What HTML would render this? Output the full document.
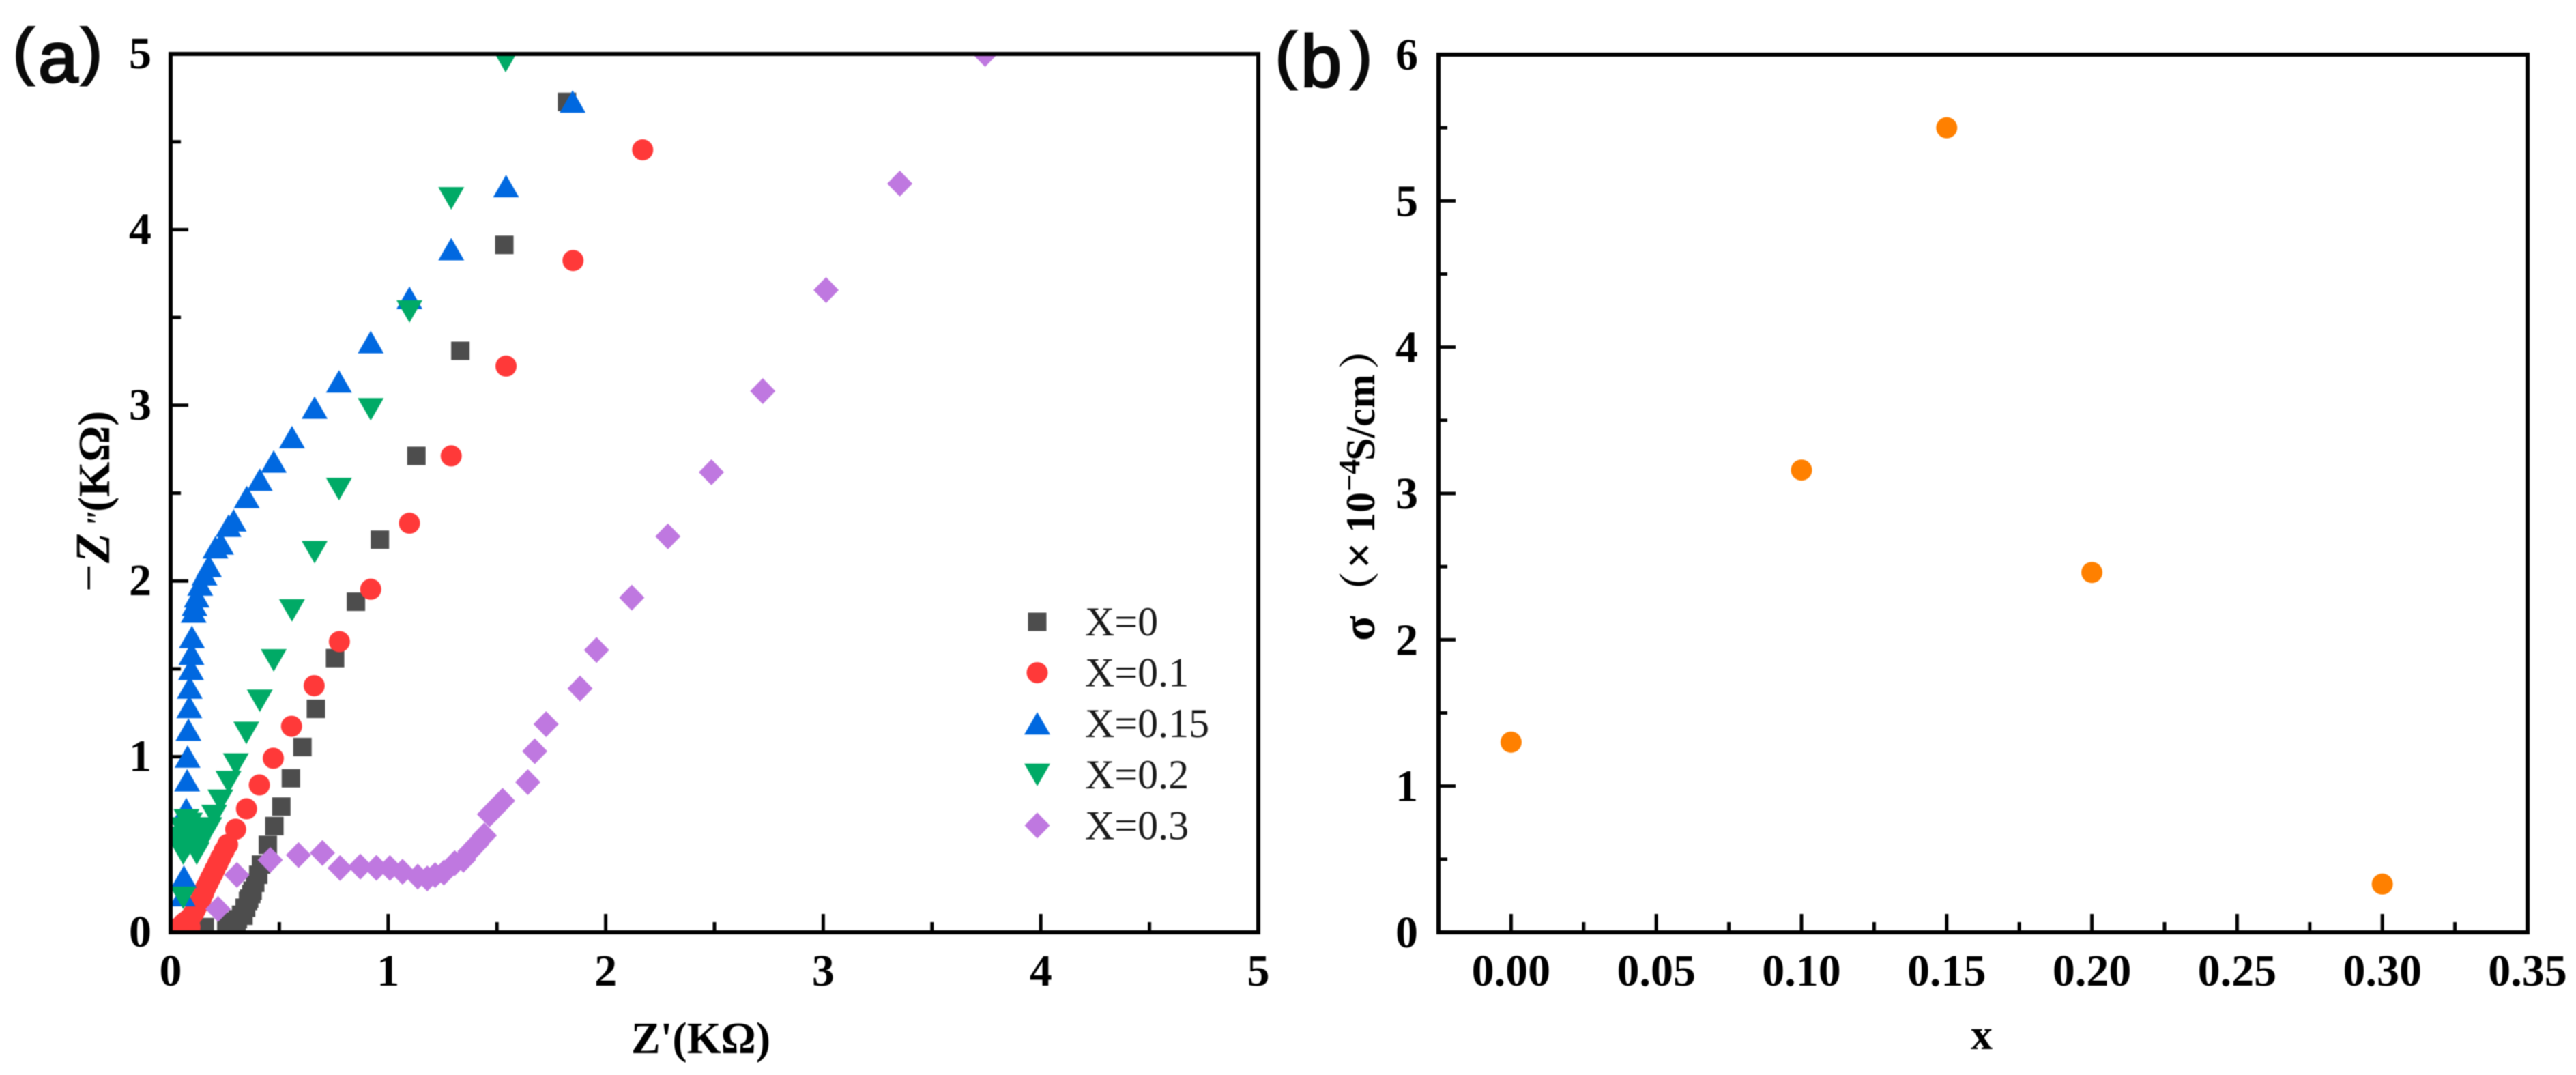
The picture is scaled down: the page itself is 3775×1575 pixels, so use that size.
<!DOCTYPE html>
<html lang="en">
<head>
<meta charset="utf-8">
<title>Impedance and conductivity charts</title>
<style>
html,body{margin:0;padding:0;background:#fff;width:3775px;height:1575px;overflow:hidden}
svg{display:block;filter:blur(0.8px)}
text{font-family:"Liberation Serif","Noto Serif CJK SC",serif;fill:#000}
.tick{font-size:66px;font-weight:bold}
.title{font-size:66px;font-weight:bold}
.legend{font-size:60px;fill:#1a1a1a}
.panel{font-family:"Liberation Sans","Noto Sans CJK SC",sans-serif;fill:#0a0a0a;stroke:#0a0a0a;stroke-width:3px}
</style>
</head>
<body>
<svg id="figure" xmlns="http://www.w3.org/2000/svg" width="3775" height="1575" viewBox="0 0 3775 1575">
  <rect x="0" y="0" width="3775" height="1575" fill="#ffffff"/>
  <defs>
    <clipPath id="clip-a"><rect x="250" y="79" width="1594" height="1287"/></clipPath>
    <clipPath id="clip-b"><rect x="2108" y="80" width="1596" height="1286"/></clipPath>
  </defs>

  <g id="panel-a"></g>
  <g id="panel-b"></g>

  <text class="panel"><tspan x="19" y="106" font-size="92">(</tspan><tspan x="56" y="120" font-size="105">a</tspan><tspan x="119" y="106" font-size="92">)</tspan></text>
  <text class="panel"><tspan x="1869" y="112" font-size="92">(</tspan><tspan x="1906" y="127" font-size="108">b</tspan><tspan x="1980" y="112" font-size="92">)</tspan></text>

  <text class="title" transform="translate(160 866) rotate(-90)"><tspan x="-1" y="-6" font-weight="normal" font-size="72">&#8722;</tspan><tspan x="41" y="0" font-style="italic" font-size="72">Z</tspan><tspan x="92" y="0" font-size="48" font-style="italic">"</tspan><tspan x="116" y="0">(K&#937;)</tspan></text>
  <text class="title" x="925" y="1543" textLength="204" lengthAdjust="spacingAndGlyphs">Z'(K&#937;)</text>

  <text class="title" transform="translate(2014 937) rotate(-90)" style="font-size:60px"><tspan x="-2" y="0" font-size="68">&#963;</tspan><tspan x="40" y="0" font-size="60">&#65288;</tspan><tspan x="104" y="0" font-size="68">&#215;</tspan><tspan x="156" y="0">10</tspan><tspan x="217" y="-22" font-size="44">&#8722;4</tspan><tspan x="262" y="0">S/cm</tspan><tspan x="396" y="0" font-size="60">&#65289;</tspan></text>
  <text class="title" x="2904" y="1537" text-anchor="middle" style="font-size:64px">x</text>
</svg>

<script>
// ---------- Panel (a) values: Nyquist data, kilo-ohm ----------
const seriesNames = ["X=0", "X=0.1", "X=0.15", "X=0.2", "X=0.3"];

const x0Re = [1.822,1.534,1.332,1.13,0.962,0.852,0.756,0.668,0.606,0.553,0.509,0.477,0.447,0.416,0.403,0.389,0.377,0.371,0.361,0.356,0.347,0.34,0.335,0.324,0.309,0.303,0.288,0.272,0.262,0.256,0.157];
const x0Im = [4.727,3.913,3.31,2.712,2.235,1.882,1.561,1.272,1.055,0.877,0.716,0.605,0.498,0.386,0.328,0.282,0.237,0.218,0.192,0.179,0.14,0.14,0.095,0.1,0.075,0.034,0.062,0.049,0.043,0.017,0.03];

const x01Re = [2.17,1.85,1.542,1.29,1.098,0.92,0.776,0.66,0.556,0.472,0.408,0.349,0.299,0.262,0.246,0.23,0.217,0.204,0.194,0.183,0.173,0.162,0.152,0.141,0.131,0.12,0.113,0.105,0.094,0.089,0.084,0.078,0.068,0.068,0.058,0.042,0.021];
const x01Im = [4.454,3.824,3.223,2.712,2.329,1.953,1.655,1.404,1.173,0.991,0.839,0.703,0.587,0.5,0.464,0.425,0.392,0.36,0.334,0.308,0.282,0.256,0.224,0.192,0.168,0.146,0.127,0.108,0.088,0.03,0.075,0.049,0.06,0.017,0.049,0.03,0.017];

const x015Re = [1.848,1.542,1.29,1.098,0.92,0.774,0.662,0.558,0.474,0.41,0.35,0.29,0.266,0.232,0.206,0.176,0.156,0.136,0.12,0.11,0.106,0.098,0.096,0.094,0.088,0.086,0.082,0.078,0.076,0.072,0.03,0.061,0.055];
const x015Im = [4.727,4.246,3.887,3.61,3.358,3.134,2.985,2.817,2.678,2.575,2.476,2.343,2.313,2.212,2.19,2.084,2.036,1.978,1.911,1.863,1.824,1.68,1.584,1.498,1.392,1.281,1.152,0.999,0.864,0.7,0.56,0.315,0.21];

const x02Re = [1.54,1.29,1.098,0.92,0.774,0.662,0.558,0.474,0.41,0.348,0.3,0.266,0.229,0.2,0.178,0.157,0.141,0.126,0.12,0.105,0.094,0.089,0.078,0.073,0.058,0.052,0.047,0.042,0.058];
const x02Im = [4.961,4.18,3.536,2.979,2.525,2.166,1.834,1.55,1.32,1.137,0.957,0.857,0.751,0.664,0.593,0.554,0.516,0.477,0.45,0.58,0.516,0.619,0.49,0.639,0.45,0.593,0.49,0.54,0.198];

const x03Re = [3.744,3.352,3.013,2.722,2.486,2.286,2.12,1.958,1.882,1.726,1.674,1.642,1.526,1.496,1.466,1.442,1.406,1.376,1.346,1.306,1.256,1.216,1.18,1.136,1.066,1.008,0.946,0.872,0.779,0.698,0.588,0.458,0.305,0.218];
const x03Im = [5.0,4.262,3.656,3.081,2.619,2.254,1.905,1.607,1.388,1.185,1.031,0.855,0.749,0.71,0.672,0.551,0.5,0.461,0.413,0.394,0.34,0.326,0.307,0.317,0.345,0.366,0.367,0.374,0.366,0.452,0.44,0.412,0.327,0.133];

const panelATicksMajor = [0,1,2,3,4,5];
const panelAMinorTicks = [0.5,1.5,2.5,3.5,4.5];

// ---------- Panel (b) values: conductivity ----------
const compositions = [0,0.10,0.15,0.20,0.30];
const conductivity = [1.30,3.16,5.50,2.46,0.33];
const panelBXTickLabels = ["0.00","0.05","0.10","0.15","0.20","0.25","0.30","0.35"];
const panelBXTicks = [0,0.05,0.10,0.15,0.20,0.25,0.30,0.35];
const panelBXMinor = [0.025,0.075,0.125,0.175,0.225,0.275,0.325];
const panelBYTicks = [0,1,2,3,4,5,6];
const panelBYMinor = [0.5,1.5,2.5,3.5,4.5,5.5];

const NS = "http://www.w3.org/2000/svg";
const INK = "#000000";
const SERIES_COLORS = ["#4d4d4d","#ff3939","#0068e0","#00aa66","#bf78e0"];
const ORANGE = "#ff8000";

// Axis functions
function axAX(v){ return 250 + (v - 0) * (1844 - 250) / 5; }
function axAY(v){ return 1366 - (v - 0) * (1366 - 79) / 5; }
function axBX(v){ return 2108 + (v + 0.025) * (3704 - 2108) / 0.375; }
function axBY(v){ return 1366 - (v - 0) * (1366 - 80) / 6; }

function make(tag, attrs, parent){
  const n = document.createElementNS(NS, tag);
  for (const k in attrs) n.setAttribute(k, attrs[k]);
  parent.appendChild(n);
  return n;
}

function drawMarker(kind, cx, cy, color, parent){
  let m;
  if (kind === 0) {
    m = make("rect", {x:cx-13.5, y:cy-13.5, width:27, height:27, fill:color}, parent);
  } else if (kind === 1) {
    m = make("circle", {cx:cx, cy:cy, r:15.5, fill:color}, parent);
  } else if (kind === 2) {
    m = make("polygon", {points:[cx,cy-17,cx+19,cy+16,cx-19,cy+16].join(","), fill:color}, parent);
  } else if (kind === 3) {
    m = make("polygon", {points:[cx,cy+17,cx+19,cy-16,cx-19,cy-16].join(","), fill:color}, parent);
  } else {
    m = make("polygon", {points:[cx,cy-19,cx+18.5,cy,cx,cy+19,cx-18.5,cy].join(","), fill:color}, parent);
  }
  return m;
}

function drawLine(parent, x1, y1, x2, y2, w, name){
  const l = make("line", {x1:x1, y1:y1, x2:x2, y2:y2, stroke:INK, "stroke-width":w}, parent);
  
  
  return l;
}

function drawLabel(parent, txt, x, y, anchor, name){
  const t = make("text", {x:x, y:y, "text-anchor":anchor, "class":"tick"}, parent);
  t.textContent = txt;
  
  
  return t;
}

function drawFrame(parent, L, T, R, B, name){
  const f = make("rect", {x:L, y:T, width:R-L, height:B-T, fill:"none", stroke:INK, "stroke-width":6}, parent);
  
  
  return f;
}

// ---------- Panel (a) ----------
const panelA = document.getElementById("panel-a");
panelATicksMajor.forEach(function(v){
  drawLine(panelA, axAX(v), 1366, axAX(v), 1366-27, 5, "x-major-tick");
  drawLine(panelA, 250, axAY(v), 250+26, axAY(v), 5, "y-major-tick");
  drawLabel(panelA, String(v), axAX(v), 1444, "middle", "x-tick-label");
  drawLabel(panelA, String(v), 222, axAY(v)+21, "end", "y-tick-label");
});
panelAMinorTicks.forEach(function(v){
  drawLine(panelA, axAX(v), 1366, axAX(v), 1366-15, 5, "x-minor-tick");
  drawLine(panelA, 250, axAY(v), 250+15, axAY(v), 5, "y-minor-tick");
});

const allRe = [x0Re, x01Re, x015Re, x02Re, x03Re];
const allIm = [x0Im, x01Im, x015Im, x02Im, x03Im];
const groupA = make("g", {"clip-path":"url(#clip-a)"}, panelA);


seriesNames.forEach(function(name, s){
  const g = make("g", {}, groupA);
  
  
  allRe[s].forEach(function(re, i){
    const m = drawMarker(s, axAX(re), axAY(allIm[s][i]), SERIES_COLORS[s], g);
    
    
  });
});
drawFrame(panelA, 250, 79, 1844, 1366, "panel-a-frame");

// Legend
const legendGroup = make("g", {}, panelA);


seriesNames.forEach(function(name, s){
  const rowY = 911 + s * 74.6;
  const mk = drawMarker(s, 1520, rowY, SERIES_COLORS[s], legendGroup);
  
  
  const t = make("text", {x:1590, y:rowY+20, "class":"legend"}, legendGroup);
  t.textContent = name;
  
  
});

// ---------- Panel (b) ----------
const panelB = document.getElementById("panel-b");
panelBXTicks.forEach(function(v, i){
  drawLine(panelB, axBX(v), 1366, axBX(v), 1366-27, 5, "x-major-tick");
  drawLabel(panelB, panelBXTickLabels[i], axBX(v), 1444, "middle", "x-tick-label");
});
panelBXMinor.forEach(function(v){
  drawLine(panelB, axBX(v), 1366, axBX(v), 1366-15, 5, "x-minor-tick");
});
panelBYTicks.forEach(function(v){
  drawLine(panelB, 2108, axBY(v), 2108+25, axBY(v), 5, "y-major-tick");
  drawLabel(panelB, String(v), 2078, axBY(v)+22, "end", "y-tick-label");
});
panelBYMinor.forEach(function(v){
  drawLine(panelB, 2108, axBY(v), 2108+13, axBY(v), 5, "y-minor-tick");
});
const groupB = make("g", {"clip-path":"url(#clip-b)"}, panelB);


compositions.forEach(function(c, i){
  const dot = make("circle", {cx:axBX(c), cy:axBY(conductivity[i]), r:15.5, fill:ORANGE}, groupB);
  
  
});
drawFrame(panelB, 2108, 80, 3704, 1366, "panel-b-frame");
</script>
</body>
</html>
